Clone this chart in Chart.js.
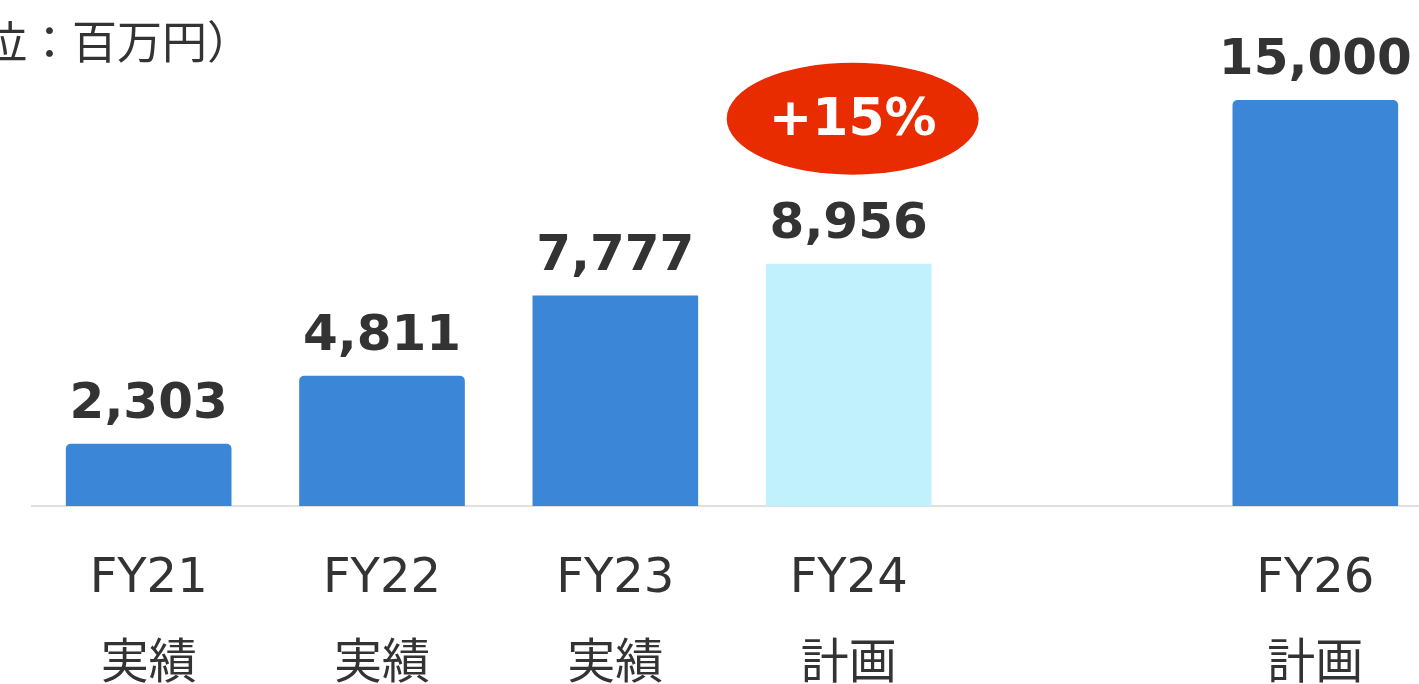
<!DOCTYPE html>
<html lang="ja">
<head>
    <meta charset="UTF-8">
    <title>売上推移</title>
    <script src="https://cdn.jsdelivr.net/npm/chart.js@4.4.1/dist/chart.umd.min.js"></script>
    <style>
        html, body {
            margin: 0;
            padding: 0;
            background: #ffffff;
            overflow: hidden;
        }
        .chart-box {
            position: relative;
            width: 1440px;
            height: 731px;
        }
    </style>
</head>
<body>
    <div class="chart-box">
        <canvas id="salesChart"></canvas>
    </div>

    <script>
        // Chart data
        const categories = [['FY21', '実績'], ['FY22', '実績'], ['FY23', '実績'], ['FY24', '計画'], '', ['FY26', '計画']];
        const values = [2303, 4811, 7777, 8956, null, 15000];
        const barColors = ['#3b86d6', '#3b86d6', '#3b86d6', '#c1f1fc', '#3b86d6', '#3b86d6'];
        const barRadius = [5, 5, 0, 0, 0, 5];
        const unitLabel = '（単位：百万円）';
        const growthIndex = 3;
        const growthText = '+15%';

        const latin = '"DejaVu Sans", "Noto Sans CJK JP", sans-serif';

        // value labels + growth badge + unit caption
        const overlayPlugin = {
            id: 'overlay',
            afterDatasetsDraw(chart) {
                const ctx = chart.ctx;
                const meta = chart.getDatasetMeta(0);
                ctx.save();
                ctx.textAlign = 'center';
                ctx.textBaseline = 'alphabetic';
                ctx.fillStyle = '#333333';
                ctx.font = 'bold 50px ' + latin;
                meta.data.forEach(function(bar, i) {
                    if (values[i] == null) return;
                    ctx.fillText(values[i].toLocaleString('en-US'), bar.x, bar.y - 26);
                });

                // growth ellipse over FY24
                const gb = meta.data[growthIndex];
                const cx = gb.x + 4, cy = gb.y - 145;
                ctx.fillStyle = '#e82c00';
                ctx.beginPath();
                ctx.ellipse(cx, cy, 126, 56, 0, 0, Math.PI * 2);
                ctx.fill();
                ctx.fillStyle = '#ffffff';
                ctx.textBaseline = 'middle';
                ctx.font = 'bold 52px ' + latin;
                ctx.fillText(growthText, cx, cy + 3);

                // unit caption (cut at the left edge like the source)
                ctx.fillStyle = '#333333';
                ctx.textAlign = 'right';
                ctx.textBaseline = 'middle';
                ctx.font = '45px "Noto Sans CJK JP", sans-serif';
                ctx.fillText(unitLabel, 252, 42);
                ctx.restore();
            }
        };

        new Chart(document.getElementById('salesChart'), {
            type: 'bar',
            data: {
                labels: categories,
                datasets: [{
                    data: values,
                    backgroundColor: barColors,
                    borderRadius: barRadius,
                    borderSkipped: 'start',
                    barPercentage: 0.71,
                    categoryPercentage: 1.0
                }]
            },
            options: {
                responsive: true,
                maintainAspectRatio: false,
                animation: false,
                layout: {
                    padding: { left: 32, right: 8, top: 100, bottom: 0 }
                },
                plugins: {
                    legend: { display: false },
                    tooltip: { enabled: false }
                },
                scales: {
                    x: {
                        grid: { display: false },
                        border: { display: true, color: '#e0e0e0', width: 2 },
                        ticks: {
                            color: '#333333',
                            padding: 23,
                            maxRotation: 0,
                            autoSkip: false,
                            font: { family: latin, size: 48, lineHeight: 1.78 }
                        }
                    },
                    y: {
                        display: false,
                        min: 0,
                        max: 15000
                    }
                }
            },
            plugins: [overlayPlugin]
        });
    </script>
</body>
</html>
